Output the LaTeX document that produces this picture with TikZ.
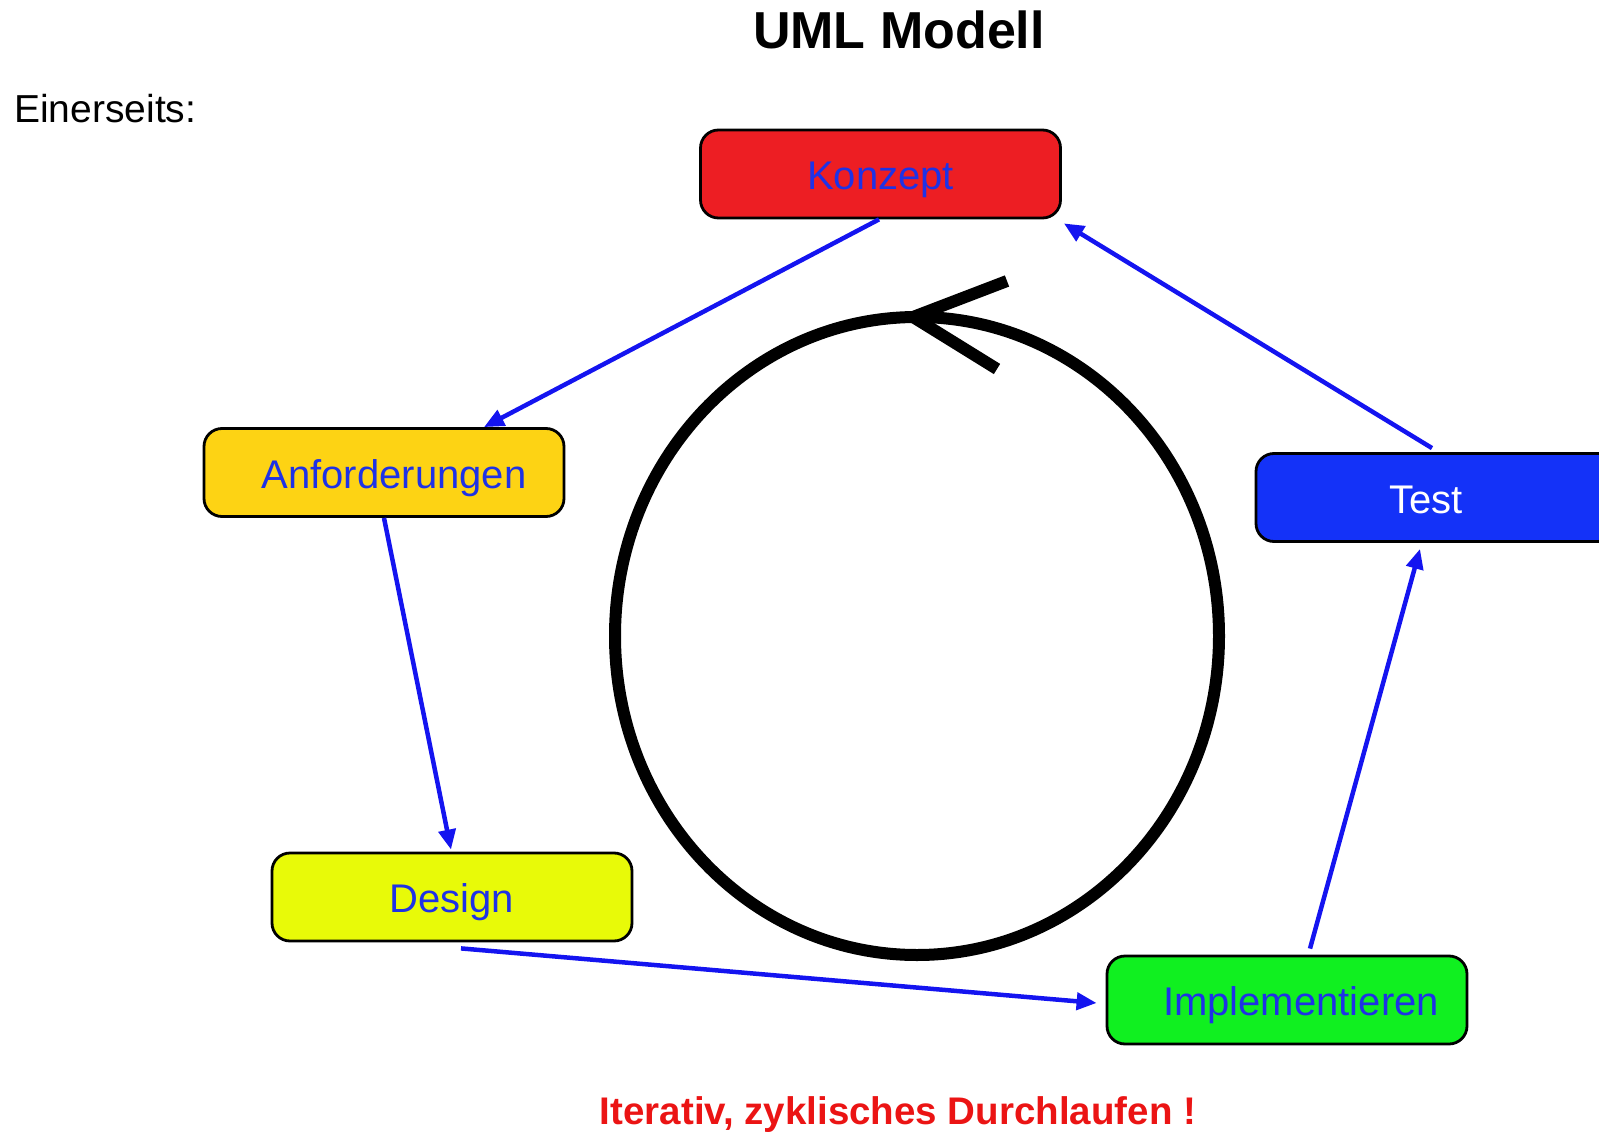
\documentclass[tikz,border=0pt]{standalone}
\usepackage{fontspec}
\setmainfont{Liberation Sans}
\usetikzlibrary{arrows.meta}

\definecolor{boxred}{RGB}{237,30,35}
\definecolor{boxorange}{RGB}{253,211,20}
\definecolor{boxyellow}{RGB}{232,250,8}
\definecolor{boxgreen}{RGB}{16,240,32}
\definecolor{boxblue}{RGB}{20,50,248}
\definecolor{labelblue}{RGB}{30,50,230}
\definecolor{flowblue}{RGB}{20,20,240}
\definecolor{notered}{RGB}{235,20,20}

\tikzset{
  phase/.style={draw=black, line width=2.8pt, rounded corners=18pt,
    minimum width=360pt, minimum height=88pt, inner sep=0pt,
    text=labelblue, text height=37pt, text depth=6pt,
    font=\fontsize{40}{48}\selectfont},
  flow/.style={draw=flowblue, line width=4.5pt,
    -{Triangle[length=20pt,width=17pt]}},
  cyclestroke/.style={draw=black, line width=12pt}
}

\begin{document}
\begin{tikzpicture}[x=1pt, y=-1pt]
\useasboundingbox (0,0) rectangle (1599,1134);

% headings
\node[anchor=base, font=\fontsize{52}{60}\selectfont\bfseries] (title) at (899,49) {UML Modell};
\node[anchor=base west, inner sep=0pt, font=\fontsize{39}{46}\selectfont] (intro) at (14,123) {Einerseits:};
\node[anchor=base, text=notered, font=\fontsize{38.5}{46}\selectfont\bfseries] (note) at (898,1124) {Iterativ, zyklisches Durchlaufen !};

% phases of the cycle
\node[phase, fill=boxred] (konzept) at (880.5,174) {Konzept};
\node[phase, fill=boxorange] (anf) at (384,472.5) {\hspace*{20pt}Anforderungen};
\node[phase, fill=boxyellow] (design) at (452,897) {Design};
\node[phase, fill=boxgreen] (impl) at (1287,1000) {\hspace*{28pt}Implementieren};
\node[phase, fill=boxblue, text=white] (test) at (1436,497.5) {Test\hspace*{20pt}};

% transitions between the phases
\draw[flow] ([xshift=-1.5pt]konzept.south) -- ([xshift=100pt]anf.north);
\draw[flow] (anf.south) -- ([xshift=-1pt,yshift=2pt]design.north);
\draw[flow] ([xshift=9pt,yshift=-6pt]design.south) -- ([xshift=-9pt,yshift=-3pt]impl.west);
\draw[flow] ([xshift=23pt,yshift=6pt]impl.north) -- ([xshift=-16pt,yshift=-6pt]test.south);
\draw[flow] ([xshift=-4pt,yshift=4pt]test.north) -- ([xshift=2pt,yshift=-4pt]konzept.south east);

% central cycle with its arrowhead
\draw[cyclestroke] (917,636) ellipse [x radius=302, y radius=319];
\draw[cyclestroke] (1007,281) -- (913,317) -- (997,369);
\end{tikzpicture}
\end{document}
